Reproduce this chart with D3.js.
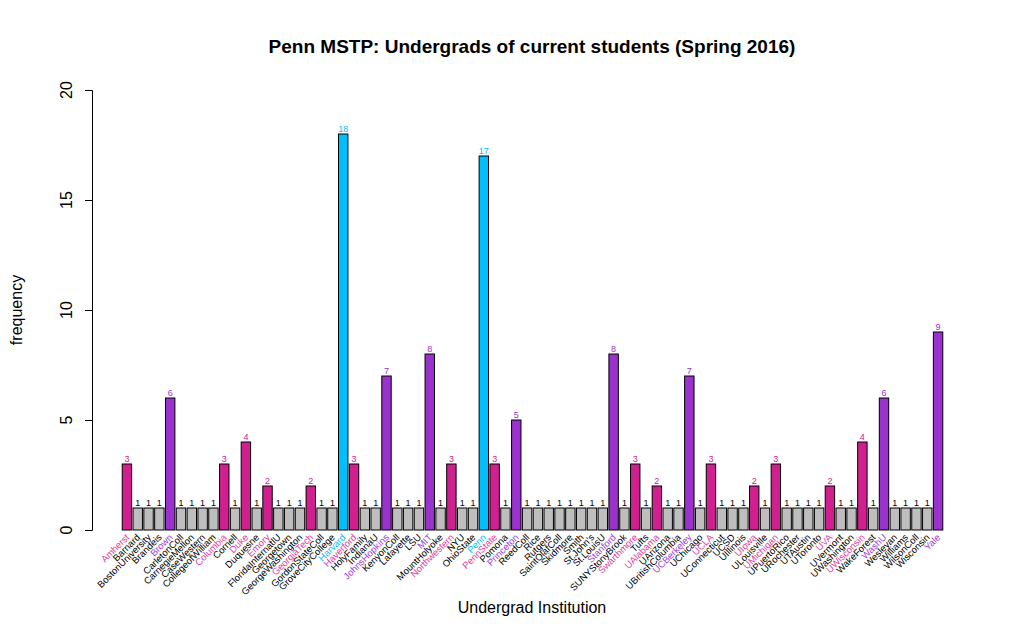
<!DOCTYPE html><html><head><meta charset="utf-8"><script src="https://cdn.jsdelivr.net/npm/d3@7"></script>
<style>body{margin:0;background:#fff}text{font-family:Arial,"Liberation Sans",sans-serif}</style></head><body><svg id="c" width="1022" height="643"></svg>
<script>
const schools=["Amherst","Barnard","BostonUniversity","Brandeis","Brown","CarletonColl","CarnegieMellon","CaseWestern","CollegeofWilliam","Columbia","Cornell","Duke","Duquesne","Emory","FloridaInternatlU","Georgetown","GeorgeWashington","GeorgiaTech","GordonStateColl","GroveCityCollege","Harvard","Haverford","HolyFamily","IndianaU","JohnsHopkins","KenyonColl","Lafayette","LSU","MIT","MountHolyoke","Northwestern","NYU","OhioState","Penn","PennState","Pomona","Princeton","ReedColl","Rice","Rutgers","SaintOlafColl","Skidmore","Smith","St.John's","St.LouisU","Stanford","SUNYStonyBrook","Swarthmore","Tufts","UAlabama","UArizona","UBritishColumbia","UCBerkeley","UChicago","UCLA","UConnecticut","UCSD","UIllinois","UIowa","ULouisville","UMichigan","UPuertoRico","URochester","UTAustin","UToronto","UVA","UVermont","UWashington","UWisconsin","WakeForest","WashU","Wesleyan","Williams","WilsonColl","Wisconsin","Yale"];
const counts=[3,1,1,1,6,1,1,1,1,3,1,4,1,2,1,1,1,2,1,1,18,3,1,1,7,1,1,1,8,1,3,1,1,17,3,1,5,1,1,1,1,1,1,1,1,8,1,3,1,2,1,1,7,1,3,1,1,1,2,1,3,1,1,1,1,2,1,1,4,1,6,1,1,1,1,9];
const yTicks=[0,5,10,15,20];
const svg=d3.select("#c");
const x=d3.scaleBand().domain(schools).range([122,943]).paddingInner(0.13).paddingOuter(0.02);
const y=d3.scaleLinear().domain([0,20]).range([530,90]);
const fill=v=>v>=17?"#00bfff":v>=5?"#9a32cd":v>=2?"#d02090":"#bebebe";
const txt=v=>v>=17?"#00bfff":v>=5?"#9a32cd":v>=2?"#d02090":"#000";
const lab=v=>v>=17?"#00bfff":v>=5?"#a040e0":v>=2?"#e040a0":"#000";
svg.selectAll("rect.b").data(schools).join("rect").attr("x",d=>x(d)).attr("width",x.bandwidth())
 .attr("y",(d,i)=>y(counts[i])).attr("height",(d,i)=>y(0)-y(counts[i]))
 .attr("fill",(d,i)=>fill(counts[i])).attr("stroke","#000").attr("stroke-width",1);
svg.selectAll("text.v").data(schools).join("text").attr("x",d=>x(d)+x.bandwidth()/2).attr("y",(d,i)=>y(counts[i])-2)
 .attr("text-anchor","middle").attr("font-size",9).attr("fill",(d,i)=>txt(counts[i])).text((d,i)=>counts[i]);
svg.selectAll("text.l").data(schools).join("text")
 .attr("transform",d=>`translate(${x(d)+x.bandwidth()/2+3},${538}) rotate(-45)`)
 .attr("text-anchor","end").attr("font-size",9.5).attr("fill",(d,i)=>lab(counts[i])).text(d=>d);
const ax=svg.append("g").attr("transform","translate(92,0)").call(d3.axisLeft(y).tickValues(yTicks).tickSize(7).tickFormat(""));
ax.select(".domain").attr("stroke","#000");
svg.selectAll("text.yt").data(yTicks).join("text").attr("transform",d=>`translate(72,${y(d)}) rotate(-90)`)
 .attr("text-anchor","middle").attr("font-size",16).text(d=>d);
svg.append("text").attr("transform","translate(22,310) rotate(-90)").attr("text-anchor","middle").attr("font-size",16).text("frequency");
svg.append("text").attr("x",532).attr("y",613).attr("text-anchor","middle").attr("font-size",16).text("Undergrad Institution");
svg.append("text").attr("x",532).attr("y",53).attr("text-anchor","middle").attr("font-size",19).attr("font-weight","bold").text("Penn MSTP: Undergrads of current students (Spring 2016)");
</script></body></html>
